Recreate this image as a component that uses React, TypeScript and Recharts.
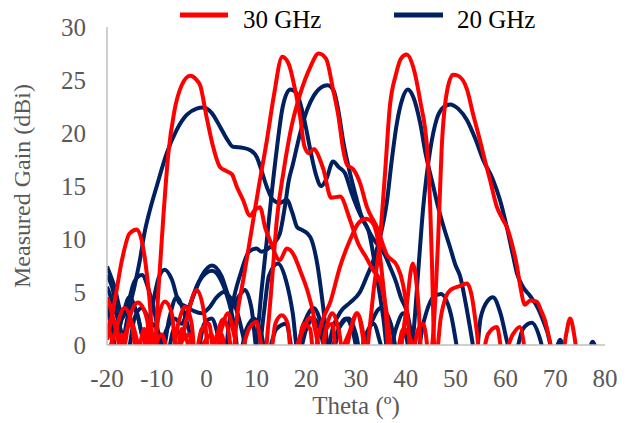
import React from 'react';
import { LineChart, Line, XAxis, YAxis } from 'recharts';

const beam30a = [
  [-20, 0.5], [-18.5, 4], [-17, 8], [-15.5, 10.5], [-14, 10.9], [-12.5, 8.5], [-11.5, 4.5], [-10.5, -1],
  [-9.7, 5], [-8.7, 12], [-7.7, 18], [-6.5, 22], [-5, 24.5], [-3.3, 25.4], [-2, 25], [-1.3, 24.5],
  [0, 21.5], [1, 19.3], [2.7, 16.8], [4, 16.4], [5.1, 16.1], [6, 15], [7.3, 13.7], [8.7, 12.2],
  [9.8, 12.8], [10.7, 13], [11.8, 11], [12.7, 9.9], [14.7, 8], [16.1, 9.1], [17.5, 8.5], [18.8, 7],
  [20.2, 5.2], [21.4, 3], [22.3, 0.3], [23, -1.5], [24, 1.5], [25.2, 3], [26.5, 1.5], [27.5, -1],
  [29, 1.5], [30.2, 3], [31.5, 1], [32.3, -1.5],
];
const beam30b = [
  [-20, 4.5], [-19, 3], [-18, 1], [-17, -1], [-15.5, 2.5], [-13.8, 4], [-12, 2.5], [-11, -1],
  [-9.5, 3], [-8.4, 4.1], [-7, 3], [-6, -1], [-4, 2.5], [-2, 5.2], [-0.5, 3], [0.5, -1],
  [1.8, 0.5], [3.3, 2.4], [4.3, 1.5], [5.2, -1], [6.2, 3], [7.5, 6.5], [8.7, 9.9], [10.5, 15],
  [12.1, 19.3], [13.5, 23.5], [15.2, 27.2], [16.5, 26.5], [17.8, 24], [18.8, 21.5], [19.6, 18.8],
  [20.5, 18.1], [21.6, 18.5], [22.5, 17.8], [23.5, 16.5], [25, 13.9], [26.8, 14], [28.8, 11.8],
  [30.5, 9.5], [32, 8.3], [33.5, 7], [34.8, 6.1], [36, 3.5], [37, 0], [37.8, -1.5], [39.5, 1.5],
  [41, 0.5], [42, -1.5],
];
const beam30c = [
  [-20, 1], [-19, 2.5], [-18, 1.5], [-17, -1], [-16, 1.5], [-15, 2], [-14, 0.5], [-13, -1],
  [-12, 1], [-11, 1], [-10, -1], [-7, -1], [-5.7, 2], [-4.3, 3.6], [-3, 2], [-2.3, -1],
  [-1, 1.5], [0.5, 2], [1.5, -1], [3, 1.5], [4.3, 3], [5.5, 1], [6.5, -1], [8.5, 1.5],
  [10, 2.2], [11, 0], [11.7, -1], [12.4, 2], [13.2, 6.5], [14.1, 11.8], [15.5, 16.5], [17, 20.5],
  [19, 24], [20.8, 26.2], [22.5, 27.5], [24, 27], [25.4, 24.1], [26.5, 21.5], [27.4, 18.5],
  [28.2, 17], [29.4, 16.6], [30.8, 15.3], [32.2, 13], [34.2, 11.1], [36.2, 8.5], [38.2, 7.5],
  [39.4, 5.8], [40.5, 2], [41, -1.5], [42.5, 1.5], [43.5, 2], [44.5, -1],
];
const beam30d = [
  [-20, -1], [-18.5, 1], [-16.5, 3.5], [-15, 2], [-14, -1], [-12.5, 1.5], [-11.5, -1], [-9, 1],
  [-7.5, -1], [-3.5, 1], [-2.5, -1], [1, 1], [2, -1], [12.8, -1], [13.8, 2], [15.1, 2.8],
  [16.3, 2], [17, -1], [19, 1], [20.8, 2.6], [22, 1], [22.8, -1], [24, 1.5], [25.3, 2], [26, -1],
  [28.5, 1], [30.2, 3], [31.3, 1], [32, -1.5], [32.5, 0.5], [33.5, 5], [34.8, 9.9], [35.8, 16],
  [36.8, 22.5], [38, 25.5], [39, 27], [40.2, 27.4], [41.5, 26.2], [42.9, 23], [44.3, 18.4],
  [44.9, 13], [45.3, 7], [45.6, 1], [46, -1.5], [47, 2.5], [48, 4.5], [49, 5.2], [50.5, 5.5],
  [52.3, 5.8], [53.3, 4.5], [54.2, 1.5], [55, -1.5], [56.5, 1], [58.3, 1.7], [59.5, -1],
  [61.5, 1], [62.9, 1.7], [64, -1],
];
const beam30e = [
  [-20, 2], [-19, 0.5], [-18.2, -1], [-17, 1], [-16, -1], [-12, -1], [-10.5, 1], [-9.5, -1],
  [-6, -1], [-5, 1.5], [-4, 0.5], [-3, -1], [2, -1], [3, 1], [4, -1], [18, -1], [19.5, 2],
  [20.8, 1.5], [21.5, -1], [22.5, 1], [23.4, 2.5], [24.8, 4], [26.8, 7.4], [28.8, 9.9],
  [30.5, 11.5], [32, 11.9], [33.2, 11.6], [34.4, 9.9], [35.2, 6.8], [36, 3], [36.6, -1],
  [38.5, -1], [40, 3], [41.4, 7.7], [42.5, 4], [43.2, -1], [44.8, -1], [45.5, 1], [46, 5],
  [46.5, 10], [47.2, 18.5], [48.3, 24], [49.5, 25.5], [50.5, 25.4], [52.3, 24.1], [53.5, 21.8],
  [54.9, 19.3], [56, 17.2], [56.9, 15.6], [58.3, 13], [59.3, 12], [60.3, 11.1], [61.5, 9.2],
  [62.3, 7.5], [63, 5.5], [63.9, 3.8], [65, 4.2], [66.3, 4.1], [67.2, 3.2], [67.9, 2.4],
  [69, 0.2], [69.8, -1.5], [71.5, -1], [72.2, 1], [73, 2.5], [73.8, 1], [74.5, -1.5],
];

const beam20a = [
  [-20, 3.5], [-19, 1.5], [-18, -1], [-17.2, -1], [-16.5, 1], [-15.5, 3.5], [-14.5, 5.5],
  [-13.4, 8], [-12.5, 10.5], [-11.4, 12.7], [-10, 15], [-8, 18.1], [-6, 20.3], [-4, 21.7],
  [-2, 22.3], [-0.7, 22.4], [1, 21.9], [2.7, 20.6], [4, 19.5], [5.3, 18.7], [7.3, 18.6],
  [8.7, 18.4], [10.1, 17.7], [11, 16.5], [12.1, 14.9], [13.3, 13.7], [14.7, 13.4], [16.1, 13.7],
  [17.2, 12.5], [18.2, 11.1], [19.4, 10.8], [20.8, 10.2], [22.2, 7.7], [23.4, 3.6], [24.2, 0.3],
  [25, -1.5], [26.5, 1.5], [28, 2.5], [29.5, 1], [30.5, -1], [32, 1], [33.5, 2], [35, 0], [36, -1.5],
];
const beam20b = [
  [-20, 7.4], [-18.5, 5.5], [-17, 3], [-15.5, 3.8], [-14, 3], [-12.5, 0.5], [-11, 3.5],
  [-9.5, 6.5], [-8.4, 7.1], [-7, 6.2], [-5.5, 4], [-4, 3.6], [-2.5, 3.2], [-1, 3], [0.5, 3.5],
  [2, 4.5], [3.5, 5], [4.5, 4.6], [5.5, 4], [6.5, 2.5], [7.5, 0.5], [8.5, -1.5], [9.5, -1.5],
  [10.2, 1], [11, 5], [12.1, 9.9], [13, 14], [14.1, 18.5], [15.3, 22.5], [16.8, 24.1], [18, 23.8],
  [19.5, 21.5], [21, 18], [22, 16], [23, 15], [24, 15.6], [25.4, 17.3], [26.5, 16.8], [27.8, 16.2],
  [29, 14.5], [30.2, 13], [31.5, 11.7], [32.5, 10.8], [34, 7], [35.5, 2.5], [36.5, -1],
  [38, 1.5], [39.5, 3], [41, 1], [42, -1.5],
];
const beam20c = [
  [-20, 6.6], [-19, 5.5], [-18, 3.5], [-17, 2.5], [-16, 3.5], [-14.5, 6], [-13, 6.6], [-11.5, 5],
  [-10, 2], [-9, -1], [-7.5, 2.5], [-6, 4.5], [-4.5, 3], [-3, 0.5], [-2, -1], [-0.5, 2], [1, 2.5],
  [2.5, 0.5], [3.5, -1.5], [4.5, 2], [5.5, 4.5], [7, 7], [8.5, 8.8], [10, 9.1], [11, 8.8],
  [12.1, 9], [13.5, 9.6], [14.7, 10.5], [15.7, 13], [16.5, 15.5], [17.3, 17], [18.8, 20],
  [20.2, 22.2], [21.5, 23.5], [23, 24.3], [24.3, 24.5], [25.5, 24], [26.5, 22], [27.4, 19.3],
  [28.8, 16.2], [30, 14], [31, 12.3], [32.2, 11.1], [33.5, 10], [34.8, 9.2], [36, 8.3],
  [36.8, 7.4], [38, 6], [39, 4.5], [40.3, 3], [41.3, 0.5], [42, -1.5], [43.5, 2], [45.5, 4.5],
  [47, 4.8], [49, 3], [50.5, -1],
];
const beam20d = [
  [-20, 5.5], [-18.5, 3.5], [-17, 1], [-16, -1], [-14.5, 2.5], [-13, 3.5], [-11.5, 2], [-10, -1],
  [-8, 1.5], [-6.5, 2.5], [-5, 2], [-4, 3], [-2.5, 4.8], [-1, 6.5], [1.1, 7.5], [3, 6.5],
  [4.5, 4.5], [5.5, 3.8], [6.5, 4.6], [7.7, 5.2], [9, 3.5], [10.3, -1], [11.5, 3], [12.5, 6.5],
  [14.3, 7.7], [16, 6], [17.3, 3], [18.4, -1], [20, 1.5], [21.5, 2.5], [23, 1], [24, -1],
  [25.4, 1.7], [27, 3.2], [28.8, 4], [30.8, 5], [32.2, 6.5], [33.5, 8], [35, 10.5], [36.2, 13.5],
  [37.2, 17.5], [38.2, 20.9], [39.3, 23.2], [40.4, 24.1], [41.5, 23.4], [42.9, 20.9], [44, 18],
  [45.5, 15], [46.5, 13], [47.5, 11.3], [48.9, 9.2], [50, 7.5], [50.9, 6.5], [52, 4], [53.3, 0.5],
  [54, -1.5], [55, 2.5], [56.5, 4.2], [57.5, 4.5], [59, 3], [60.5, 0], [61.5, -1.5], [63.5, 1.5],
  [65.3, 2.1], [67, 0.5], [68, -1.5],
];
const beam20e = [
  [-20, 4], [-19, 2.5], [-18, 1], [-17, 2.5], [-15.5, 4.5], [-14, 3], [-12.5, 0.5], [-11, 2],
  [-9.5, 1], [-8, -1], [-6.5, 1.5], [-5, 1], [-3.5, 3.5], [-1.5, 6], [1.1, 7], [3, 6], [4.5, 4],
  [5.5, 2], [6.5, -1], [8, 1.5], [9.5, 2.5], [11, 1], [12, -1], [14, 1.5], [16, 2], [17.5, -1],
  [19.5, 2], [21.5, 3.5], [23, 2], [24.5, -1], [26.5, 1.5], [28.5, 2.5], [30, 1], [31, -1],
  [33, 2], [35, 3.5], [37, 2], [38.5, -1], [39.8, 1.5], [40.8, -1], [41.4, 0.5], [42.5, 7],
  [43.5, 13], [44.9, 18.4], [46.2, 21.3], [47.5, 22.4], [48.9, 22.7], [50.5, 22.3], [52.3, 21.2],
  [54, 19.4], [55.5, 17.5], [57.5, 15.6], [58.9, 13.7], [60.3, 11.1], [61.5, 8.5], [62.3, 6.8],
  [63.5, 5.5], [65, 4.6], [66.5, 3.5], [67.5, 2.4], [68.9, 0.3], [69.5, -1.5], [71, 0.5],
  [72, -1], [76.5, -1], [77.5, 0.3], [78.5, -1],
];

const beams30 = [beam30a, beam30b, beam30c, beam30d, beam30e];
const beams20 = [beam20a, beam20b, beam20c, beam20d, beam20e];
const xTicks = [-20, -10, 0, 10, 20, 30, 40, 50, 60, 70, 80];
const yTicks = [0, 5, 10, 15, 20, 25, 30];

const RED = '#ff0000';
const NAVY = '#002060';
const FONT = '"Liberation Serif", "Times New Roman", serif';

const toPoints = (b: number[][]) => b.map(([x, y]) => ({ x, y }));

const App = () => {
  return (
    <div style={{ position: 'relative', width: 617, height: 415, fontFamily: FONT }}>
      <LineChart width={617} height={415} margin={{ top: 19, right: 20, bottom: 48, left: 0 }}>
        <XAxis
          type="number"
          dataKey="x"
          domain={[-20, 80]}
          ticks={xTicks}
          allowDataOverflow
          height={30}
          tickLine={false}
          tickMargin={18}
          stroke="#bfbfbf"
          strokeWidth={1.5}
          tick={{ fill: '#595959', fontSize: 25, fontFamily: FONT }}
          label={{ value: 'Theta (º)', position: 'bottom', offset: 21, fill: '#595959', fontSize: 25, fontFamily: FONT }}
        />
        <YAxis
          type="number"
          domain={[0, 30]}
          ticks={yTicks}
          allowDataOverflow
          width={99}
          axisLine={{ stroke: '#bfbfbf', strokeWidth: 1.5 }}
          tickLine={false}
          tickMargin={15}
          tick={{ fill: '#595959', fontSize: 25, fontFamily: FONT }}
          label={{ value: 'Measured Gain (dBi)', angle: -90, position: 'insideLeft', offset: 13, fill: '#595959', fontSize: 24, fontFamily: FONT, style: { textAnchor: 'middle' } }}
        />
        {beams20.map((b, i) => (
          <Line key={'n' + i} data={toPoints(b)} dataKey="y" type="monotone" stroke={NAVY} strokeWidth={4} dot={false} isAnimationActive={false} />
        ))}
        {beams30.map((b, i) => (
          <Line key={'r' + i} data={toPoints(b)} dataKey="y" type="monotone" stroke={RED} strokeWidth={4} dot={false} isAnimationActive={false} />
        ))}
      </LineChart>
      <svg width={617} height={40} style={{ position: 'absolute', left: 0, top: -8 }}>
        <line x1={172} x2={220} y1={15} y2={15} stroke={RED} strokeWidth={5} />
        <text x={235} y={28} fontSize={25} fontFamily={FONT} fill="#000">30 GHz</text>
        <line x1={386} x2={435} y1={15} y2={15} stroke={NAVY} strokeWidth={5} />
        <text x={449} y={28} fontSize={25} fontFamily={FONT} fill="#000">20 GHz</text>
      </svg>
    </div>
  );
};

export default App;
